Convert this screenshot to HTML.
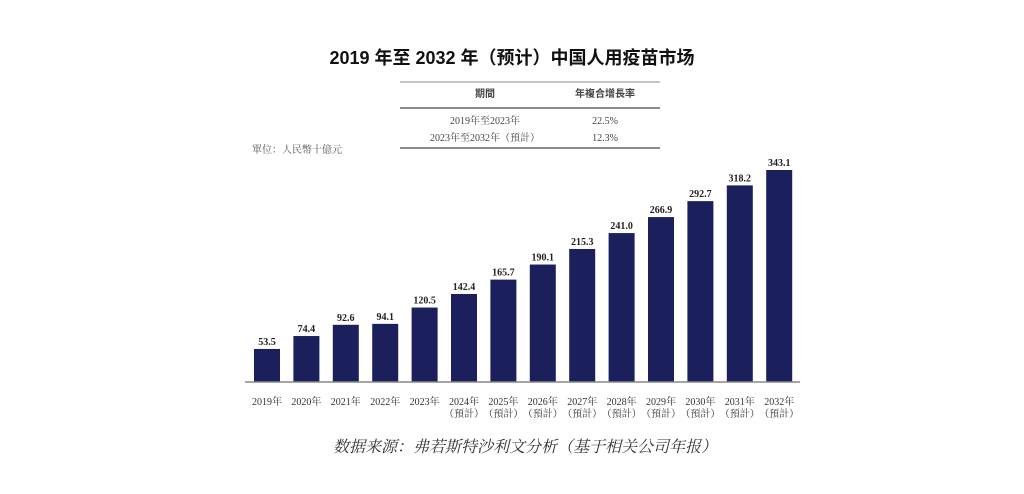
<!DOCTYPE html>
<html><head><meta charset="utf-8"><style>
body{margin:0;background:#fff;width:1024px;height:489px;overflow:hidden}
svg text{font-family:"Liberation Serif","Noto Serif CJK SC",serif}
</style></head><body>
<svg width="1024" height="489">
<text x="512" y="64" text-anchor="middle" font-size="18" font-weight="bold" fill="#111" style="font-family:'Liberation Sans','Noto Sans CJK SC',sans-serif">2019 年至 2032 年（预计）中国人用疫苗市场</text>
<g font-size="10" fill="#444">
<line x1="400" y1="82" x2="660" y2="82" stroke="#888" stroke-width="1"/>
<line x1="400" y1="108" x2="660" y2="108" stroke="#666" stroke-width="1.5"/>
<line x1="400" y1="148" x2="660" y2="148" stroke="#666" stroke-width="1.5"/>
<text x="485" y="97" text-anchor="middle" font-weight="bold" style="font-family:'Liberation Sans','Noto Sans CJK TC',sans-serif">期間</text>
<text x="605" y="97" text-anchor="middle" font-weight="bold" style="font-family:'Liberation Sans','Noto Sans CJK TC',sans-serif">年複合增長率</text>
<text x="485" y="124" text-anchor="middle">2019年至2023年</text>
<text x="605" y="124" text-anchor="middle">22.5%</text>
<text x="485" y="141" text-anchor="middle">2023年至2032年（預計）</text>
<text x="605" y="141" text-anchor="middle">12.3%</text>
</g>
<text x="252" y="153" font-size="10" fill="#555">單位：人民幣十億元</text>
<g id="bars"></g>
<line x1="245" y1="382" x2="800" y2="382" stroke="#888" stroke-width="1.5"/>
<text x="525" y="452" text-anchor="middle" font-size="16" font-style="italic" fill="#333" style="font-family:'Liberation Serif','Noto Serif CJK SC',serif">数据来源：弗若斯特沙利文分析（基于相关公司年报）</text>
</svg>
<script>
const categories=["2019年","2020年","2021年","2022年","2023年","2024年","2025年","2026年","2027年","2028年","2029年","2030年","2031年","2032年"];
const forecast=[false,false,false,false,false,true,true,true,true,true,true,true,true,true];
const values=[53.5,74.4,92.6,94.1,120.5,142.4,165.7,190.1,215.3,241.0,266.9,292.7,318.2,343.1];
const ns="http://www.w3.org/2000/svg";
const g=document.getElementById('bars');
const x0=254,pitch=39.4,bw=26,base=382,scale=212/343.1;
const xs=i=>x0+i*pitch, ys=v=>base-v*scale;
function mk(t,a){const e=document.createElementNS(ns,t);for(const k in a)e.setAttribute(k,a[k]);return e;}
values.forEach((v,i)=>{
 const r=mk('rect',{x:xs(i),y:ys(v),width:bw,height:base-ys(v),fill:'#1b1f5c'});
 
 
 g.appendChild(r);
 const t=mk('text',{x:xs(i)+bw/2,y:ys(v)-4,'text-anchor':'middle','font-size':'10','font-weight':'bold',fill:'#222'});
 t.textContent=v.toFixed(1);
 
 
 g.appendChild(t);
 const l=mk('text',{x:xs(i)+bw/2,y:405,'text-anchor':'middle','font-size':'10',fill:'#333'});
 l.textContent=categories[i];
 
 
 g.appendChild(l);
 if(forecast[i]){
  const f=mk('text',{x:xs(i)+bw/2,y:417,'text-anchor':'middle','font-size':'10',fill:'#333'});
  f.textContent='（預計）';
  
  
  g.appendChild(f);
 }
});
</script>
</body></html>
